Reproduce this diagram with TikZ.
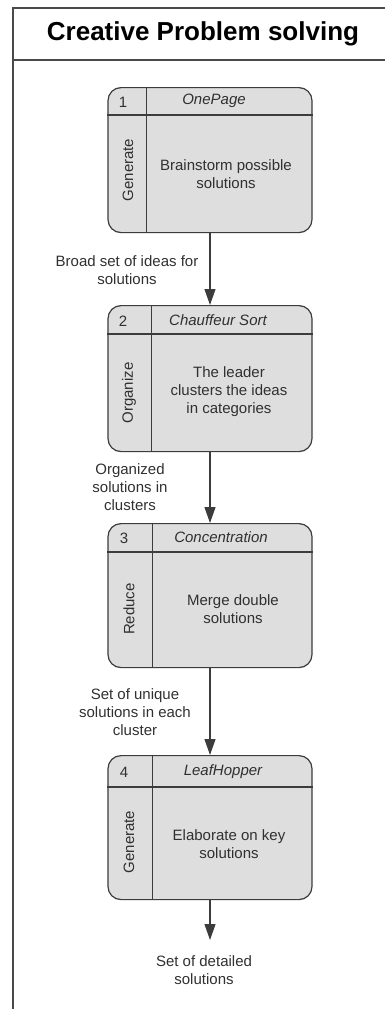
\documentclass[tikz,border=0pt]{standalone}
\usepackage{fontspec}
\setmainfont{Liberation Sans}
\usetikzlibrary{arrows.meta,calc}
\definecolor{framec}{HTML}{4A4A4A}
\definecolor{linec}{HTML}{3C3C3C}
\definecolor{boxfill}{HTML}{DEDEDE}
\definecolor{txt}{HTML}{303030}
\tikzset{
  stage/.style={draw=linec, fill=boxfill, rounded corners=13pt, line width=1.2pt,
    minimum width=204pt, inner sep=0pt, anchor=north},
  divider/.style={draw=linec, line width=1.2pt},
  body/.style={font=\fontsize{15}{18}\selectfont, text=txt, align=center, inner sep=0pt},
  title/.style={body, font=\itshape\fontsize{15}{18}\selectfont},
  side/.style={body, rotate=90},
  flowlabel/.style={body},
  flow/.style={draw=linec, line width=1.2pt, -{Triangle[length=16pt,width=11pt]}},
  frame/.style={draw=framec, line width=2pt}
}
\begin{document}
\begin{tikzpicture}[x=1pt,y=-1pt]
\useasboundingbox (0,0) rectangle (384,1009);

% outer frame and title band
\draw[frame] (13,1012) -- (13,8) -- (388,8);
\draw[frame] (13,60) -- (388,60);
\node[body, font=\bfseries\fontsize{26}{30}\selectfont, text=black] (head) at (203,34) {Creative Problem solving};

% stage boxes
\node[stage, minimum height=145pt] (s1) at (210,87) {};
\node[stage, minimum height=146pt] (s2) at (210,305) {};
\node[stage, minimum height=144pt] (s3) at (210,523) {};
\node[stage, minimum height=144pt] (s4) at (210,755) {};

% dividers: header row and side column
\draw[divider] ($(s1.north west)+(0,28)$) -- ($(s1.north east)+(0,28)$);
\draw[divider] ($(s1.north west)+(39,0)$) -- ($(s1.south west)+(39,0)$);
\draw[divider] ($(s2.north west)+(0,29)$) -- ($(s2.north east)+(0,29)$);
\draw[divider] ($(s2.north west)+(44,0)$) -- ($(s2.south west)+(44,0)$);
\draw[divider] ($(s3.north west)+(0,29)$) -- ($(s3.north east)+(0,29)$);
\draw[divider] ($(s3.north west)+(45,0)$) -- ($(s3.south west)+(45,0)$);
\draw[divider] ($(s4.north west)+(0,32)$) -- ($(s4.north east)+(0,32)$);
\draw[divider] ($(s4.north west)+(45,0)$) -- ($(s4.south west)+(45,0)$);

% stage 1
\node[body] (n1) at (123,102) {1};
\node[title] (t1) at (214,101) {OnePage};
\node[side] (k1) at (128,170) {Generate};
\node[body] (d1) at (226,174) {Brainstorm possible\\solutions};

% stage 2
\node[body] (n2) at (123,321) {2};
\node[title] (t2) at (218,320) {Chauffeur Sort};
\node[side] (k2) at (129,393) {Organize};
\node[body] (d2) at (229,392) {The leader\\clusters the ideas\\in categories};

% stage 3
\node[body] (n3) at (124,538) {3};
\node[title] (t3) at (221,537) {Concentration};
\node[side] (k3) at (129,609) {Reduce};
\node[body] (d3) at (233,609) {Merge double\\solutions};

% stage 4
\node[body] (n4) at (124,772) {4};
\node[title] (t4) at (223,772) {LeafHopper};
\node[side] (k4) at (129,842) {Generate};
\node[body] (d4) at (229,844) {Elaborate on key\\solutions};

% flow labels
\node[flowlabel] (f1) at (127,270) {Broad set of ideas for\\solutions};
\node[flowlabel] (f2) at (130,487) {Organized\\solutions in\\clusters};
\node[flowlabel] (f3) at (135,712) {Set of unique\\solutions in each\\cluster};
\node[flowlabel] (f4) at (204,970) {Set of detailed\\solutions};

% connectors
\coordinate (end4) at (210,940);
\draw[flow] (s1.south) -- (s2.north);
\draw[flow] (s2.south) -- (s3.north);
\draw[flow] (s3.south) -- (s4.north);
\draw[flow] (s4.south) -- (end4);
\end{tikzpicture}
\end{document}
